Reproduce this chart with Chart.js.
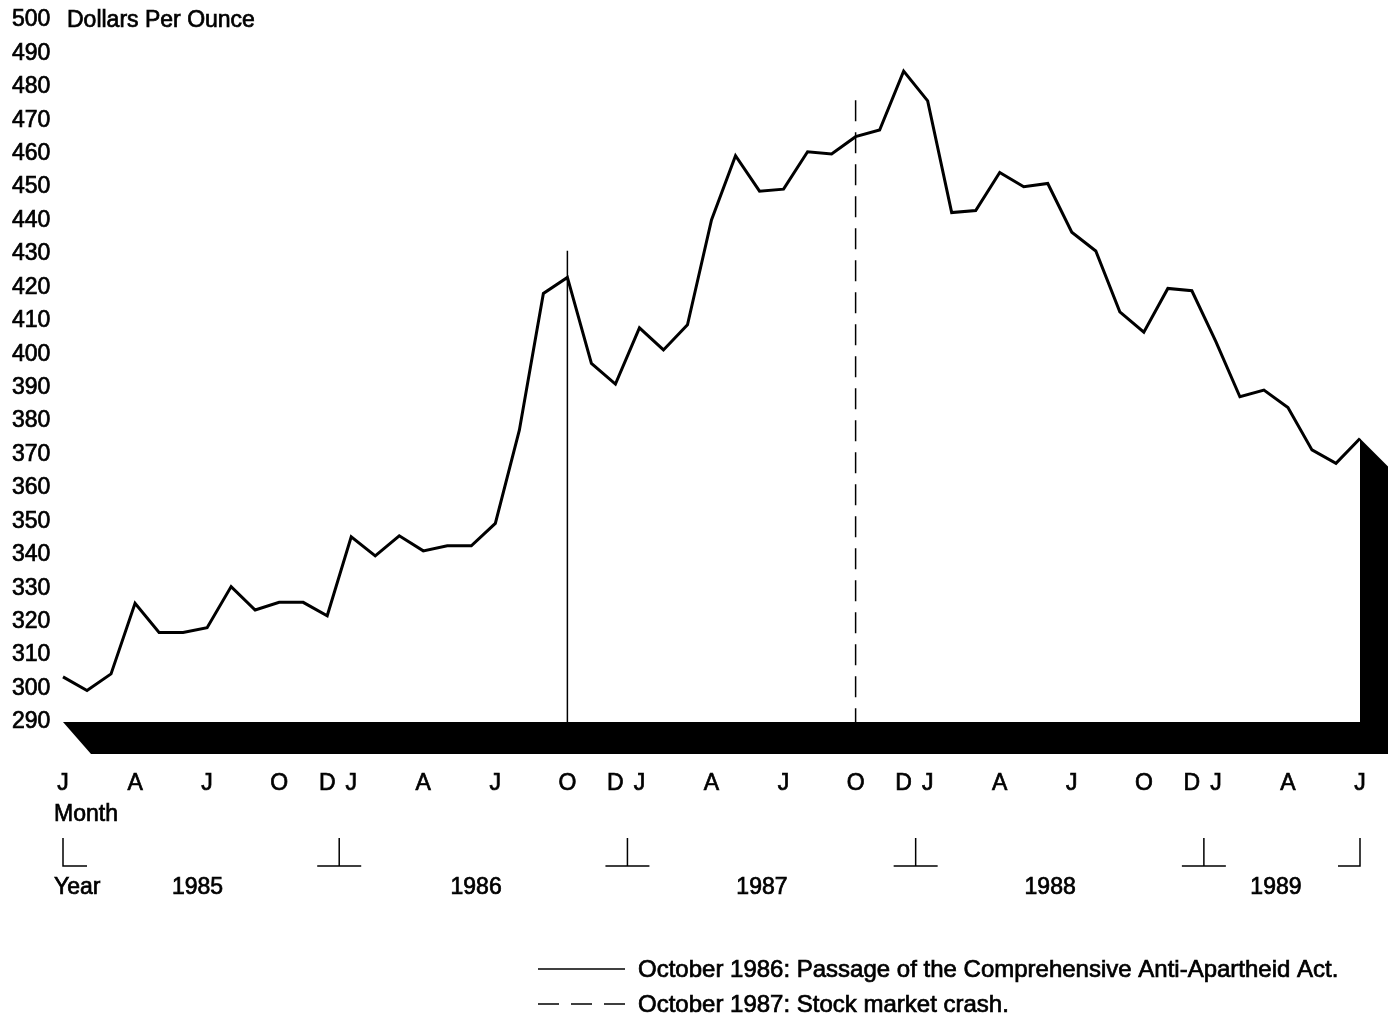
<!DOCTYPE html>
<html>
<head>
<meta charset="utf-8">
<script src="https://cdn.jsdelivr.net/npm/chart.js@4.4.1/dist/chart.umd.min.js"></script>
<style>
  html, body { margin: 0; padding: 0; background: #ffffff; overflow: hidden; }
  #wrap { width: 1394px; height: 1018px; position: relative; overflow: hidden; }
  #c { display: block; }
</style>
</head>
<body>
<div id="wrap"><canvas id="c"></canvas></div>
<script>
// ---------- data ----------
const years = [1985, 1986, 1987, 1988, 1989];
const monthNames = ['Jan','Feb','Mar','Apr','May','Jun','Jul','Aug','Sep','Oct','Nov','Dec'];
// monthly gold price, Jan 1985 .. Jul 1989 (dollars per ounce)
const goldPrices = [
  303.5, 299.4, 304.4, 325.5, 316.8, 316.8, 318.2, 330.5, 323.5, 325.8, 325.8, 321.8,
  345.4, 339.7, 345.7, 341.2, 342.7, 342.7, 349.4, 377.3, 418.2, 423.0, 397.3, 391.1,
  407.9, 401.3, 408.8, 440.2, 459.4, 448.8, 449.4, 460.6, 459.9, 465.1, 467.1, 484.7,
  475.8, 442.4, 443.0, 454.4, 450.1, 451.1, 436.5, 430.9, 412.7, 406.6, 419.7, 419.0,
  403.8, 387.3, 389.3, 384.1, 371.4, 367.4, 374.8
];
const categories = [];
years.forEach(y => monthNames.forEach(m => categories.push(m + ' ' + y)));
categories.length = goldPrices.length;

const tickMonthIndex = [0, 3, 6, 9, 11];
const tickMonthLetters = ['J', 'A', 'J', 'O', 'D'];
const yMin = 290, yMax = 500, yStep = 10;
const yAxisTitle = 'Dollars Per Ounce';
const monthAxisTitle = 'Month';
const yearAxisTitle = 'Year';
const yearLabels = ['1985', '1986', '1987', '1988', '1989'];

const eventMonths = ['Oct 1986', 'Oct 1987'];
const eventTops = [431, 476];
const eventLabels = [
  'October 1986: Passage of the Comprehensive Anti-Apartheid Act.',
  'October 1987: Stock market crash.'
];

// ---------- chart ----------
const FONT = "'Liberation Sans', Arial, Helvetica, sans-serif";
Chart.defaults.font.family = FONT;
Chart.defaults.color = '#000';

const TEXT_STROKE = 0.7;
const solidDash = [];
const crashDash = [21, 11];

function inkText(ctx, t, x, y) {
  ctx.fillText(t, x, y);
  ctx.strokeText(t, x, y);
}

const decorPlugin = {
  id: 'decor',
  beforeDatasetsDraw(chart) {
    const { ctx, scales: { x, y } } = chart;
    const n = goldPrices.length;
    const x0 = x.getPixelForValue(0);
    const x1 = x.getPixelForValue(n - 1);
    const yb = y.getPixelForValue(yMin);
    const yl = y.getPixelForValue(goldPrices[n - 1]);
    const dx = 28, dy = 32;
    ctx.save();
    ctx.fillStyle = '#000';
    ctx.beginPath();
    ctx.moveTo(x0, yb);
    ctx.lineTo(x1, yb);
    ctx.lineTo(x1, yl);
    ctx.lineTo(x1 + dx, yl + dy - 4);
    ctx.lineTo(x1 + dx, yb + dy);
    ctx.lineTo(x0 + dx, yb + dy);
    ctx.closePath();
    ctx.fill();
    ctx.restore();
  },
  afterDraw(chart) {
    const { ctx, scales: { x, y } } = chart;
    const n = goldPrices.length;
    ctx.save();
    ctx.fillStyle = '#000';
    ctx.strokeStyle = '#000';
    ctx.font = '23px ' + FONT;
    ctx.textBaseline = 'middle';
    ctx.textAlign = 'left';
    ctx.lineWidth = TEXT_STROKE;
    // y-axis title next to the top tick
    inkText(ctx, yAxisTitle, 67, y.getPixelForValue(yMax) + 1);
    inkText(ctx, monthAxisTitle, 54, 815);
    inkText(ctx, yearAxisTitle, 54, 888);

    // year labels
    const yearPos = [5.6, 17.2, 29.1, 41.1, 50.5];
    ctx.textAlign = 'center';
    yearLabels.forEach((t, i) => inkText(ctx, t, x.getPixelForValue(yearPos[i]), 888));

    // year brackets
    const top = 838, bot = 866, half = 22;
    ctx.lineWidth = 1.5;
    ctx.beginPath();
    const xs = x.getPixelForValue(0);
    ctx.moveTo(xs, top); ctx.lineTo(xs, bot); ctx.lineTo(xs + 24, bot);
    for (let k = 1; k < years.length; k++) {
      const b = (x.getPixelForValue(12 * k - 1) + x.getPixelForValue(12 * k)) / 2;
      ctx.moveTo(b, top); ctx.lineTo(b, bot);
      ctx.moveTo(b - half, bot); ctx.lineTo(b + half, bot);
    }
    const xe = x.getPixelForValue(n - 1);
    ctx.moveTo(xe, top); ctx.lineTo(xe, bot); ctx.lineTo(xe - 22, bot);
    ctx.stroke();

    // legend
    ctx.font = '24px ' + FONT;
    ctx.textAlign = 'left';
    const lx0 = 538, lx1 = 625, tx = 638;
    const rows = [969, 1004];
    [solidDash, crashDash].forEach((d, i) => {
      ctx.lineWidth = 1.5;
      ctx.setLineDash(i === 0 ? [] : [21, 12]);
      ctx.beginPath();
      ctx.moveTo(lx0, rows[i]); ctx.lineTo(lx1, rows[i]);
      ctx.stroke();
      ctx.setLineDash([]);
      ctx.lineWidth = TEXT_STROKE;
      inkText(ctx, eventLabels[i], tx, rows[i] + 1);
    });
    ctx.restore();
  }
};

const tickFont = { size: 23 };

new Chart(document.getElementById('c'), {
  type: 'line',
  data: {
    labels: categories,
    datasets: [
      {
        label: 'Gold price',
        data: goldPrices,
        borderColor: '#000',
        borderWidth: 3,
        pointRadius: 0,
        tension: 0,
        borderJoinStyle: 'miter',
        order: 1
      },
      {
        label: eventLabels[0],
        data: [{ x: eventMonths[0], y: eventTops[0] }, { x: eventMonths[0], y: yMin }],
        borderColor: '#000',
        borderWidth: 1.5,
        borderDash: solidDash,
        pointRadius: 0,
        order: 2
      },
      {
        label: eventLabels[1],
        data: [{ x: eventMonths[1], y: eventTops[1] }, { x: eventMonths[1], y: yMin }],
        borderColor: '#000',
        borderWidth: 1.5,
        borderDash: crashDash,
        pointRadius: 0,
        order: 3
      }
    ]
  },
  options: {
    responsive: true,
    maintainAspectRatio: false,
    animation: false,
    layout: { padding: { left: 12, right: 34, top: 20, bottom: 0 } },
    plugins: { legend: { display: false }, tooltip: { enabled: false } },
    scales: {
      x: {
        type: 'category',
        offset: false,
        grid: {
          display: true,
          drawOnChartArea: false,
          drawTicks: true,
          tickLength: 46,
          color: 'rgba(0,0,0,0)'
        },
        border: { display: false },
        ticks: {
          autoSkip: false,
          maxRotation: 0,
          minRotation: 0,
          padding: 2,
          font: tickFont,
          color: '#000',
          textStrokeColor: '#000',
          textStrokeWidth: TEXT_STROKE,
          callback(val, idx) {
            const m = idx % 12;
            const k = tickMonthIndex.indexOf(m);
            return k >= 0 ? tickMonthLetters[k] : '';
          }
        },
        afterFit(s) { s.height = 296; }
      },
      y: {
        min: yMin,
        max: yMax,
        grid: { display: false, drawTicks: false },
        border: { display: false },
        ticks: {
          stepSize: yStep,
          autoSkip: false,
          crossAlign: 'far',
          padding: 0,
          font: tickFont,
          color: '#000',
          textStrokeColor: '#000',
          textStrokeWidth: TEXT_STROKE
        },
        afterFit(s) { s.width = 51; }
      }
    }
  },
  plugins: [decorPlugin]
});
</script>
</body>
</html>
